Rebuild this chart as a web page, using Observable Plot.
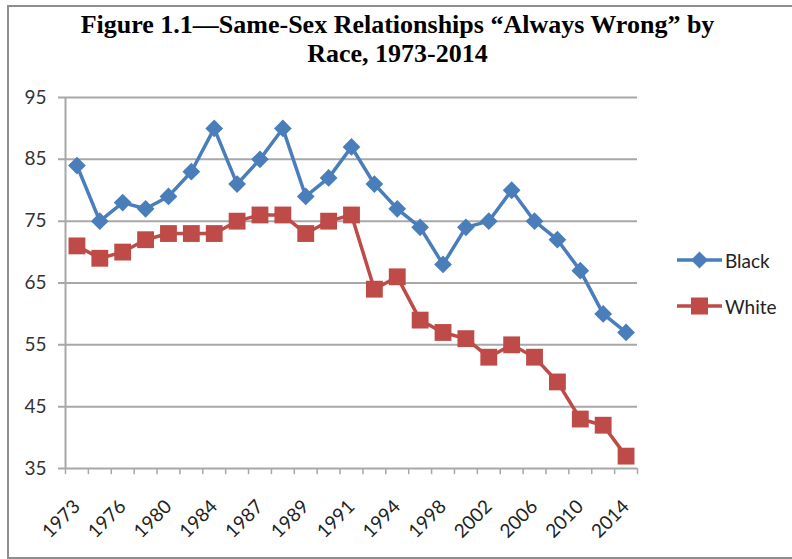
<!DOCTYPE html>
<html>
<head>
<meta charset="utf-8">
<script src="https://cdn.jsdelivr.net/npm/d3@7"></script>
<script src="https://cdn.jsdelivr.net/npm/@observablehq/plot@0.6"></script>
<style>
  html, body { margin: 0; padding: 0; background: #fff; }
  #wrap { position: relative; width: 792px; height: 559px; overflow: hidden; background: #fff; }
  #border { position: absolute; left: 7px; top: 5px; width: 820px; height: 550px;
    border-top: 2px solid #8e8e8e; border-left: 2px solid #8e8e8e; border-bottom: 2px solid #8e8e8e; }
  #title { position: relative; height: 85px; box-sizing: border-box; padding-top: 10px; padding-left: 3px;
    text-align: center; font-family: "Liberation Serif", "Times New Roman", serif; font-weight: bold;
    font-size: 26px; line-height: 29px; color: #000; white-space: nowrap; }
  #chart { position: relative; display: block; }
  #legend { position: absolute; left: 677px; top: 0; font-family: Lato, "Open Sans", sans-serif; font-size: 19px; color: #222; }
  .li { position: absolute; left: 0; display: flex; align-items: center; white-space: nowrap; }
  .li svg { display: block; }
  .li span { margin-left: 3px; }
</style>
</head>
<body>
<div id="wrap">
  <div id="border"></div>
  <div id="title">Figure 1.1—Same-Sex Relationships “Always Wrong” by<br>Race, 1973-2014</div>
  <div id="chart"></div>
  <div id="legend"></div>
</div>
<script>
const years = ["1973","1974","1976","1977","1980","1982","1984","1985","1987","1988","1989","1990","1991","1993","1994","1996","1998","2000","2002","2004","2006","2008","2010","2012","2014"];
const black = [84,75,78,77,79,83,90,81,85,90,79,82,87,81,77,74,68,74,75,80,75,72,67,60,57];
const white = [71,69,70,72,73,73,73,75,76,76,73,75,76,64,66,59,57,56,53,55,53,49,43,42,37];
const xLabels = ["1973","1976","1980","1984","1987","1989","1991","1994","1998","2002","2006","2010","2014"];
const yTicks = [35,45,55,65,75,85,95];
const seriesNames = ["Black","White"];
const seriesColors = ["#4a7ebb","#be4b48"];

const blackRows = years.map((yr, i) => ({year: yr, value: black[i]}));
const whiteRows = years.map((yr, i) => ({year: yr, value: white[i]}));

const W = 792, H = 474, mL = 65, mR = 155, mT = 12, mB = 91;
const step = (W - mL - mR) / years.length;
const grid = "#a8a8a8";
const labelFont = 'Lato, "Open Sans", sans-serif';

const chart = Plot.plot({
  width: W, height: H,
  marginLeft: mL, marginRight: mR, marginTop: mT, marginBottom: mB,
  style: {background: "transparent", overflow: "visible"},
  x: {type: "point", domain: years, padding: 0.5, round: false, axis: null},
  y: {domain: [35, 95], axis: null},
  marks: [
    Plot.ruleY(yTicks, {stroke: grid, strokeWidth: 2, insetLeft: -7}),
    Plot.ruleX([years[0]], {dx: -step / 2, y1: 95, y2: 35, stroke: grid, strokeWidth: 2}),
    Plot.ruleX(years, {dx: -step / 2, y1: 35, y2: 34, stroke: grid, strokeWidth: 1.5}),
    Plot.ruleX([years[years.length - 1]], {dx: step / 2, y1: 35, y2: 34, stroke: grid, strokeWidth: 1.5}),
    Plot.text(yTicks, {y: d => d, text: d => String(d), frameAnchor: "left", dx: -19, textAnchor: "end",
      fontSize: 19, fontFamily: labelFont, fill: "#333"}),
    Plot.text(xLabels, {x: d => d, y: 35, text: d => d, rotate: -45, textAnchor: "end", dy: 35,
      fontSize: 19, fontFamily: labelFont, fill: "#222"}),
    Plot.line(blackRows, {x: "year", y: "value", stroke: seriesColors[0], strokeWidth: 3.5, strokeLinejoin: "round"}),
    Plot.line(whiteRows, {x: "year", y: "value", stroke: seriesColors[1], strokeWidth: 3.5, strokeLinejoin: "round"}),
    Plot.dot(blackRows, {x: "year", y: "value", symbol: "diamond2", r: 8, fill: seriesColors[0], stroke: "none"}),
    Plot.dot(whiteRows, {x: "year", y: "value", symbol: "square", r: 9.5, fill: seriesColors[1], stroke: "none"})
  ]
});
document.getElementById("chart").appendChild(chart);

// legend
const legend = document.getElementById("legend");
const legendTops = [260, 306];
seriesNames.forEach((name, i) => {
  const item = document.createElement("div");
  item.className = "li";
  item.style.top = (legendTops[i] - 12) + "px";
  const sym = i === 0
    ? `<polygon points="22.5,3.5 31,12 22.5,20.5 14,12" fill="${seriesColors[i]}"/>`
    : `<rect x="14" y="3.5" width="17" height="17" fill="${seriesColors[i]}"/>`;
  item.innerHTML = `<svg width="45" height="24"><line x1="0" y1="12" x2="45" y2="12" stroke="${seriesColors[i]}" stroke-width="3.5"/>${sym}</svg><span>${name}</span>`;
  legend.appendChild(item);
});
</script>
</body>
</html>
